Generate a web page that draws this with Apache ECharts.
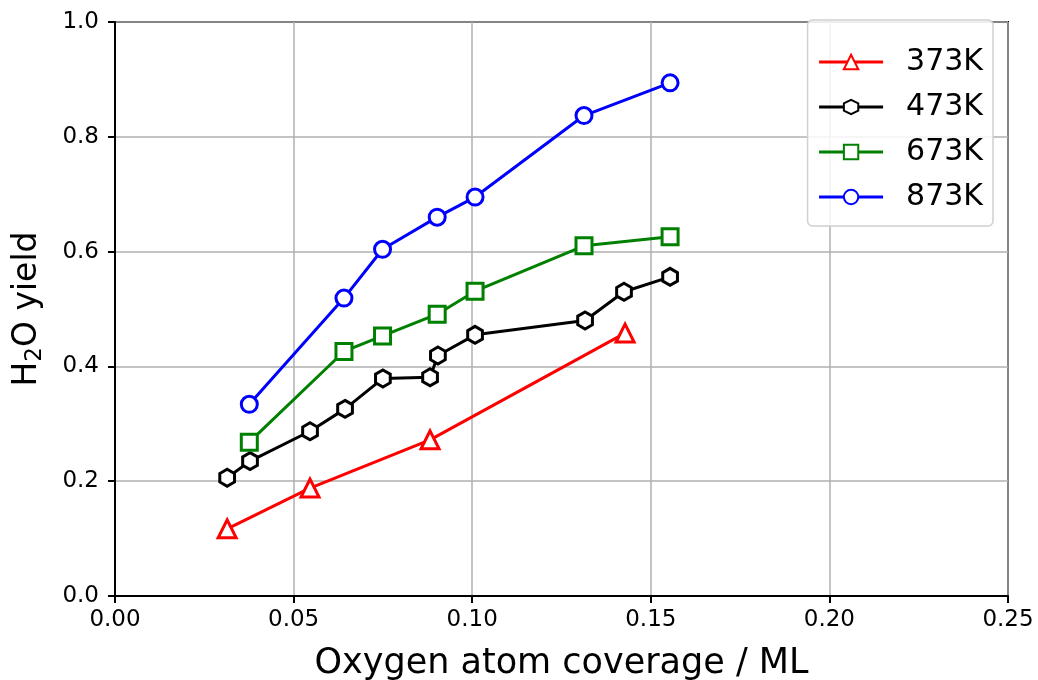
<!DOCTYPE html>
<html>
<head>
<meta charset="utf-8">
<script src="https://cdn.jsdelivr.net/npm/echarts@6/dist/echarts.min.js"></script>
<style>
  html, body { margin: 0; padding: 0; background: #fff; }
  #chart { width: 1038px; height: 680px; }
</style>
</head>
<body>
<div id="chart"></div>
<script>
// values
const seriesNames = ['373K', '473K', '673K', '873K']

const x373 = [0.0314, 0.0546, 0.0882, 0.1428]
const y373 = [0.117, 0.188, 0.272, 0.458]

const x473 = [0.0314, 0.0378, 0.0546, 0.0644, 0.0750, 0.0882, 0.0904, 0.1008, 0.1316, 0.1425, 0.1554]
const y473 = [0.206, 0.235, 0.287, 0.326, 0.379, 0.381, 0.419, 0.455, 0.480, 0.530, 0.556]

const x673 = [0.0376, 0.0641, 0.0749, 0.0902, 0.1008, 0.1313, 0.1554]
const y673 = [0.268, 0.426, 0.453, 0.491, 0.531, 0.610, 0.626]

const x873 = [0.0376, 0.0641, 0.0749, 0.0902, 0.1008, 0.1313, 0.1554]
const y873 = [0.334, 0.519, 0.604, 0.660, 0.695, 0.837, 0.894]

const colors = ['#ff0000', '#000000', '#008000', '#0000ff']

const hexagon = 'path://M0,-1L0.866,-0.5L0.866,0.5L0,1L-0.866,0.5L-0.866,-0.5Z'

function pairs(xs, ys) {
  return xs.map((x, i) => [x, ys[i]])
}

const font = 'DejaVu Sans'
const chart = echarts.init(document.getElementById('chart'))

function lineSeries(name, data, color, symbol, size) {
  return {
    name: name,
    type: 'line',
    data: data,
    symbol: symbol,
    symbolSize: size,
    symbolKeepAspect: true,
    showAllSymbol: true,
    lineStyle: { color: color, width: 3 },
    itemStyle: { color: '#fff', borderColor: color, borderWidth: 3 },
    emphasis: { disabled: true },
    z: 3
  }
}

chart.setOption({
  animation: false,
  grid: {
    left: 115, right: 30, top: 22, bottom: 84,
    outerBoundsMode: 'none',
    show: true, borderColor: '#000', borderWidth: 2
  },
  legend: {
    right: 45, top: 20,
    orient: 'vertical',
    itemWidth: 64, itemHeight: 18, itemGap: 15,
    padding: [27, 10, 14, 10],
    backgroundColor: 'rgba(255,255,255,0.85)',
    borderColor: '#d0d0d0', borderWidth: 1.5, borderRadius: 5,
    lineStyle: { width: 3 },
    textStyle: { fontFamily: font, fontSize: 30, color: '#000', padding: [0, 0, 0, 18] },
    data: seriesNames
  },
  xAxis: {
    type: 'value',
    min: 0, max: 0.25, interval: 0.05,
    name: 'Oxygen atom coverage / ML',
    nameLocation: 'middle', nameGap: 50,
    nameTextStyle: { fontFamily: font, fontSize: 35, color: '#000' },
    axisLine: { lineStyle: { color: '#000', width: 2 } },
    axisTick: { show: true, length: 7, lineStyle: { color: '#000', width: 2 } },
    axisLabel: {
      fontFamily: font, fontSize: 23, color: '#000', margin: 13,
      formatter: v => v.toFixed(2)
    },
    splitLine: { show: true, lineStyle: { color: '#b0b0b0', width: 1.5 } }
  },
  yAxis: {
    type: 'value',
    min: 0, max: 1, interval: 0.2,
    name: '{n|H}{s|2}{n|O yield}',
    nameLocation: 'middle', nameGap: 68, nameRotate: 90,
    nameTextStyle: {
      rich: {
        n: { fontFamily: font, fontSize: 33, color: '#000' },
        s: { fontFamily: font, fontSize: 23, color: '#000', verticalAlign: 'bottom', padding: [16, 0, 0, 0] }
      }
    },
    axisLine: { lineStyle: { color: '#000', width: 2 } },
    axisTick: { show: true, length: 7, lineStyle: { color: '#000', width: 2 } },
    axisLabel: {
      fontFamily: font, fontSize: 23, color: '#000', margin: 16,
      formatter: v => v.toFixed(1)
    },
    splitLine: { show: true, lineStyle: { color: '#b0b0b0', width: 1.5 } }
  },
  series: [
    lineSeries(seriesNames[0], pairs(x373, y373), colors[0], 'triangle', 18),
    lineSeries(seriesNames[1], pairs(x473, y473), colors[1], hexagon, 17),
    lineSeries(seriesNames[2], pairs(x673, y673), colors[2], 'rect', 16),
    lineSeries(seriesNames[3], pairs(x873, y873), colors[3], 'circle', 16)
  ]
})
</script>
</body>
</html>
